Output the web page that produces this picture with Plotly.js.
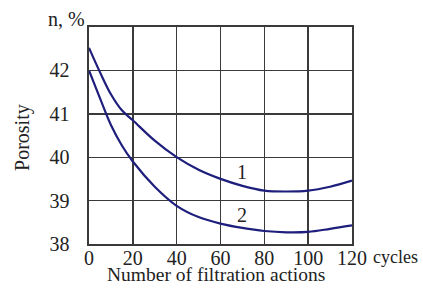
<!DOCTYPE html>
<html>
<head>
<meta charset="utf-8">
<script src="https://cdn.plot.ly/plotly-3.0.1.min.js"></script>
<style>html,body{margin:0;padding:0;background:#fff;}#chart{width:423px;height:288px;}</style>
</head>
<body>
<div id="chart"></div>
<script>
var cycles = [0, 5, 10, 15, 20, 30, 40, 50, 60, 70, 80, 90, 100, 110, 120];
var porosity1 = [42.52, 41.96, 41.45, 41.08, 40.85, 40.38, 40.0, 39.71, 39.5, 39.34, 39.23, 39.21, 39.23, 39.32, 39.46];
var porosity2 = [42.0, 41.36, 40.74, 40.27, 39.9, 39.32, 38.88, 38.62, 38.47, 38.37, 38.3, 38.27, 38.28, 38.35, 38.43];
var xTicks = [0, 20, 40, 60, 80, 100, 120];
var yTicks = [38, 39, 40, 41, 42];
var curveLabels = ["1", "2"];
var labelX = [70, 70];
var labelY = [39.66, 38.66];

var font = {family: "Liberation Serif, serif", size: 20, color: "#222"};
var lineColor = "#1e1e7c";
var gridColor = "#3a3a3a";

var traces = [
  {x: cycles, y: porosity1, mode: "lines", line: {color: lineColor, width: 2.2, shape: "spline", smoothing: 1}, hoverinfo: "skip"},
  {x: cycles, y: porosity2, mode: "lines", line: {color: lineColor, width: 2.2, shape: "spline", smoothing: 1}, hoverinfo: "skip"}
];

var annotations = [];
for (var i = 0; i < curveLabels.length; i++) {
  annotations.push({x: labelX[i], y: labelY[i], xref: "x", yref: "y", text: curveLabels[i], showarrow: false, font: font, xanchor: "center", yanchor: "middle"});
}
annotations.push({x: 1.258, y: -0.06, xref: "paper", yref: "paper", text: "cycles", showarrow: false, font: {family: font.family, size: 18, color: font.color}, xanchor: "right", yanchor: "middle"});
annotations.push({x: -0.008, y: 1.035, xref: "paper", yref: "paper", text: "n, %", showarrow: false, font: font, xanchor: "right", yanchor: "middle"});
annotations.push({x: 0.483, y: -0.2, xref: "paper", yref: "paper", text: "Number of filtration actions", showarrow: false, font: {family: font.family, size: 19.5, color: font.color}, xanchor: "center", yanchor: "bottom"});
annotations.push({x: -0.255, y: 0.493, xref: "paper", yref: "paper", text: "Porosity", showarrow: false, font: font, textangle: -90, xanchor: "center", yanchor: "middle"});

var layout = {
  width: 423, height: 288,
  margin: {l: 89, r: 71, t: 27, b: 44, pad: 0},
  paper_bgcolor: "#fff", plot_bgcolor: "#fff",
  showlegend: false,
  font: font,
  xaxis: {
    range: [0, 120], tickvals: xTicks, ticktext: xTicks.map(String),
    showgrid: true, gridcolor: gridColor, gridwidth: 1.4,
    showline: true, linecolor: gridColor, linewidth: 1.6, mirror: true,
    zeroline: false, ticks: "", tickfont: font, ticklabelstandoff: -5, automargin: false
  },
  yaxis: {
    range: [38, 43], tickvals: yTicks, ticktext: yTicks.map(String),
    showgrid: true, gridcolor: gridColor, gridwidth: 1.4,
    showline: true, linecolor: gridColor, linewidth: 1.6, mirror: true,
    zeroline: false, ticks: "", tickfont: font, ticklabelstandoff: 14, automargin: false
  },
  annotations: annotations
};
Plotly.newPlot("chart", traces, layout, {staticPlot: true, displayModeBar: false});
</script>
</body>
</html>
